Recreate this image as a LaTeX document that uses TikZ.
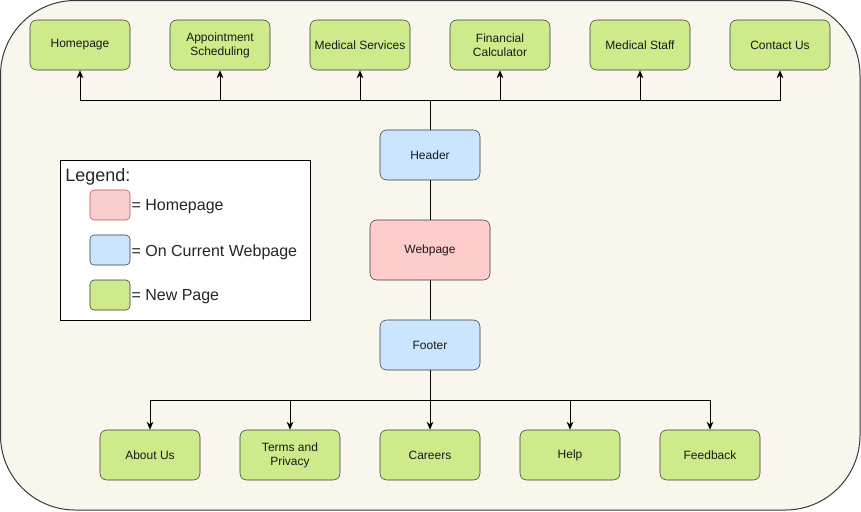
\documentclass[tikz,border=0pt]{standalone}
\usepackage{fontspec}
\setmainfont{Liberation Sans}
\usetikzlibrary{arrows.meta}

\definecolor{pagebg}{RGB}{249,246,238}
\definecolor{darkline}{RGB}{54,57,61}
\definecolor{newpage}{RGB}{205,235,139}
\definecolor{curpage}{RGB}{204,229,255}
\definecolor{homefill}{RGB}{255,204,204}
\definecolor{legpink}{RGB}{248,206,204}
\definecolor{legpinkline}{RGB}{184,84,80}

\tikzset{
  pagebox/.style={draw=darkline, rounded corners=5pt, minimum width=75pt, minimum height=37.5pt, align=center, font=\fontsize{9}{10.5}\selectfont, text=black!90},
  newbox/.style={pagebox, fill=newpage},
  curbox/.style={pagebox, fill=curpage},
  homebox/.style={pagebox, fill=homefill, minimum width=90pt, minimum height=45pt},
  swatch/.style={draw=darkline, rounded corners=3pt, fill=#1, minimum width=30pt, minimum height=22.5pt, inner sep=0pt},
  legtext/.style={anchor=west, inner sep=0.75pt, yshift=-1.5pt, font=\fontsize{12}{14}\selectfont, text=black!85},
  link/.style={line width=0.75pt, draw=black},
  tip/.style={link, -{Stealth[length=6pt, width=5pt]}}
}

\begin{document}
\begin{tikzpicture}[x=0.75pt,y=0.75pt,yscale=-1,xscale=1]
\useasboundingbox (0,0) rectangle (861,511);

%Shape: Background
\draw [draw=darkline, fill=pagebg, line width=0.75pt, rounded corners=56pt] (0.5,0.5) rectangle (860,510);

%Shape: Top row
\node [newbox] (home) at (80,45) {Homepage};
\node [newbox] (appoint) at (220,45) {Appointment\\Scheduling};
\node [newbox] (medserv) at (360,45) {Medical Services};
\node [newbox] (fincalc) at (500,45) {Financial\\Calculator};
\node [newbox] (medstaff) at (640,45) {Medical Staff};
\node [newbox] (contact) at (780,45) {Contact Us};

%Shape: Middle column
\node [curbox] (header) at (430,155) {Header};
\node [homebox] (webpage) at (430,250) {Webpage};
\node [curbox] (footer) at (430,345) {Footer};

%Shape: Bottom row
\node [newbox] (about) at (150,455) {About Us};
\node [newbox] (terms) at (290,455) {Terms and\\Privacy};
\node [newbox] (careers) at (430,455) {Careers};
\node [newbox] (help) at (570,455) {Help};
\node [newbox] (feedback) at (710,455) {Feedback};

%Straight Lines
\coordinate (hbus) at (430,100);
\coordinate (fbus) at (430,400);
\draw [link] (header) -- (hbus);
\draw [link] (header) -- (webpage);
\draw [link] (webpage) -- (footer);
\draw [link] (footer) -- (fbus);
\foreach \t in {home,appoint,medserv,fincalc,medstaff,contact}
  \draw [tip] (hbus) -| (\t);
\foreach \t in {about,terms,careers,help,feedback}
  \draw [tip] (fbus) -| (\t);

%Shape: Legend
\draw [draw=black, fill=white, line width=0.75pt] (60.5,160.5) rectangle (310.5,320.5);
\node [legtext, font=\fontsize{13.5}{16}\selectfont] (legtitle) at (64,175) {Legend:};
\node [swatch=legpink, draw=legpinkline] (swhome) at (110,205) {};
\node [swatch=curpage] (swcur) at (110,250) {};
\node [swatch=newpage] (swnew) at (110,295) {};
\node [legtext] (lhome) at (swhome.east) {= Homepage};
\node [legtext] (lcur) at (swcur.east) {= On Current Webpage};
\node [legtext] (lnew) at (swnew.east) {= New Page};

\end{tikzpicture}
\end{document}
